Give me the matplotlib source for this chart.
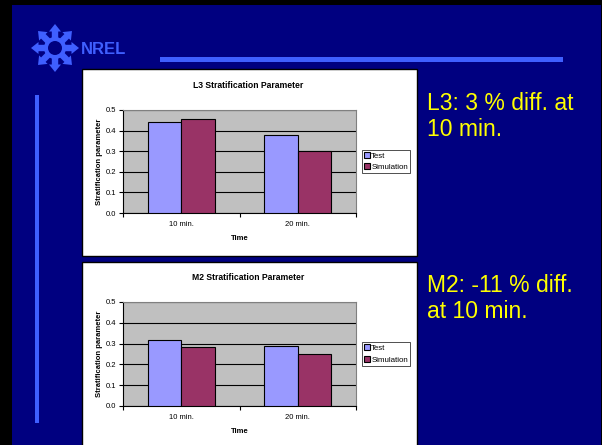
import numpy as np
import matplotlib
matplotlib.use("Agg")
import matplotlib.pyplot as plt
from matplotlib.patches import Rectangle, Circle, Polygon

plt.rcParams['font.family'] = ['Liberation Sans', 'DejaVu Sans']

# datos
categorias = ['10 min.', '20 min.']
series = ['Test', 'Simulation']
l3_test = [0.44, 0.378]
l3_sim = [0.455, 0.30]
m2_test = [0.315, 0.288]
m2_sim = [0.282, 0.252]
textos = [['L3: 3 % diff. at', '10 min.'], ['M2: -11 % diff.', 'at 10 min.']]

W, H = 602, 445
navy = '#000080'
azul = '#3f5fff'
colores = ['#9999FF', '#993366']

fig = plt.figure(figsize=(W / 100, H / 100), dpi=100)
fig.patch.set_facecolor(navy)

# capa de fondo en coordenadas de pixel
bg = fig.add_axes([0, 0, 1, 1])
bg.set_xlim(0, W)
bg.set_ylim(H, 0)
bg.axis('off')
bg.set_facecolor(navy)

# bordes negros
bg.add_patch(Rectangle((0, 0), 12, H, color='black', lw=0))
bg.add_patch(Rectangle((0, 0), W, 5, color='black', lw=0))
bg.add_patch(Rectangle((W - 1.5, 0), 1.5, H, color='black', lw=0))

# lineas decorativas
bg.add_patch(Rectangle((160, 57), 403, 4.5, color=azul, lw=0))
bg.add_patch(Rectangle((34.5, 95), 4.5, 328, color=azul, lw=0))

# logo
cx, cy = 55, 48
bg.add_patch(Circle((cx, cy), 11, color=azul, lw=0))
bg.add_patch(Circle((cx, cy), 7, color=navy, lw=0))
for ang in np.arange(0, 360, 45):
    a = np.radians(ang)
    d = np.array([np.cos(a), -np.sin(a)])
    p = np.array([-d[1], d[0]])
    c0 = np.array([cx, cy])
    pts = [c0 + d * 10 + p * 3.2, c0 + d * 16.5 + p * 3.2, c0 + d * 16.5 + p * 6,
           c0 + d * 24, c0 + d * 16.5 - p * 6, c0 + d * 16.5 - p * 3.2, c0 + d * 10 - p * 3.2]
    bg.add_patch(Polygon(pts, closed=True, color=azul, lw=0))
bg.text(81, 53.5, 'NREL', color=azul, fontsize=12, fontweight='bold', va='baseline', ha='left',
        family=['Liberation Sans Narrow', 'Liberation Sans'])

# paneles blancos
bg.add_patch(Rectangle((82, 69), 335, 187, facecolor='white', edgecolor='black', lw=1))
bg.add_patch(Rectangle((82, 262), 335, 190, facecolor='white', edgecolor='black', lw=1))

# textos amarillos
for lineas, y0 in zip(textos, [110, 292]):
    bg.text(427, y0, lineas[0], color='#FFFF00', fontsize=16.5, va='baseline', ha='left')
    bg.text(427, y0 + 26.5, lineas[1], color='#FFFF00', fontsize=16.5, va='baseline', ha='left')


def grafico(top, bottom, titulo, test, sim):
    left, right = 123, 356
    ax = fig.add_axes([left / W, 1 - bottom / H, (right - left) / W, (bottom - top) / H])
    ax.set_facecolor('#C0C0C0')
    x = np.arange(len(categorias))
    w = 0.2857
    ax.bar(x - w / 2, test, w, color=colores[0], edgecolor='black', lw=0.8, label=series[0], zorder=3)
    ax.bar(x + w / 2, sim, w, color=colores[1], edgecolor='black', lw=0.8, label=series[1], zorder=3)
    ax.set_xlim(-0.5, 1.5)
    ax.set_ylim(0, 0.5)
    ax.set_yticks(np.arange(0, 0.51, 0.1))
    ax.set_yticklabels(['%.1f' % v for v in np.arange(0, 0.51, 0.1)], fontsize=5.5)
    ax.yaxis.grid(True, color='black', lw=0.8, zorder=1)
    ax.set_xticks(x)
    ax.set_xticklabels(categorias, fontsize=5.5)
    ax.set_xticks([-0.5, 0.5, 1.5], minor=True)
    ax.tick_params(axis='x', which='major', length=0, pad=6)
    ax.tick_params(axis='x', which='minor', length=3, width=0.8, direction='out')
    ax.tick_params(axis='y', length=3, width=0.8, pad=2)
    for s in ['top', 'right']:
        ax.spines[s].set_color('#808080')
        ax.spines[s].set_linewidth(0.8)
    for s in ['left', 'bottom']:
        ax.spines[s].set_color('black')
        ax.spines[s].set_linewidth(0.8)
    # el titulo se centra sobre todo el grafico, no solo sobre el area de trazado
    ax.set_title(titulo, fontsize=6.2, fontweight='bold', pad=16, x=(248 - left) / (right - left))
    ax.set_xlabel('Time', fontsize=5.5, fontweight='bold', labelpad=5)
    ax.set_ylabel('Stratification parameter', fontsize=5.5, fontweight='bold', labelpad=2)
    leg = ax.legend(loc='center left', bbox_to_anchor=(1.025, 0.5), fontsize=5.7, frameon=True,
                    fancybox=False, edgecolor='black', handlelength=0.7, handleheight=0.7,
                    handletextpad=0.2, borderpad=0.3, labelspacing=0.5, borderaxespad=0)
    leg.get_frame().set_linewidth(0.6)
    return ax


grafico(110, 213, 'L3 Stratification Parameter', l3_test, l3_sim)
grafico(302, 406, 'M2 Stratification Parameter', m2_test, m2_sim)

plt.savefig('out.png', dpi=100, facecolor=fig.get_facecolor())
